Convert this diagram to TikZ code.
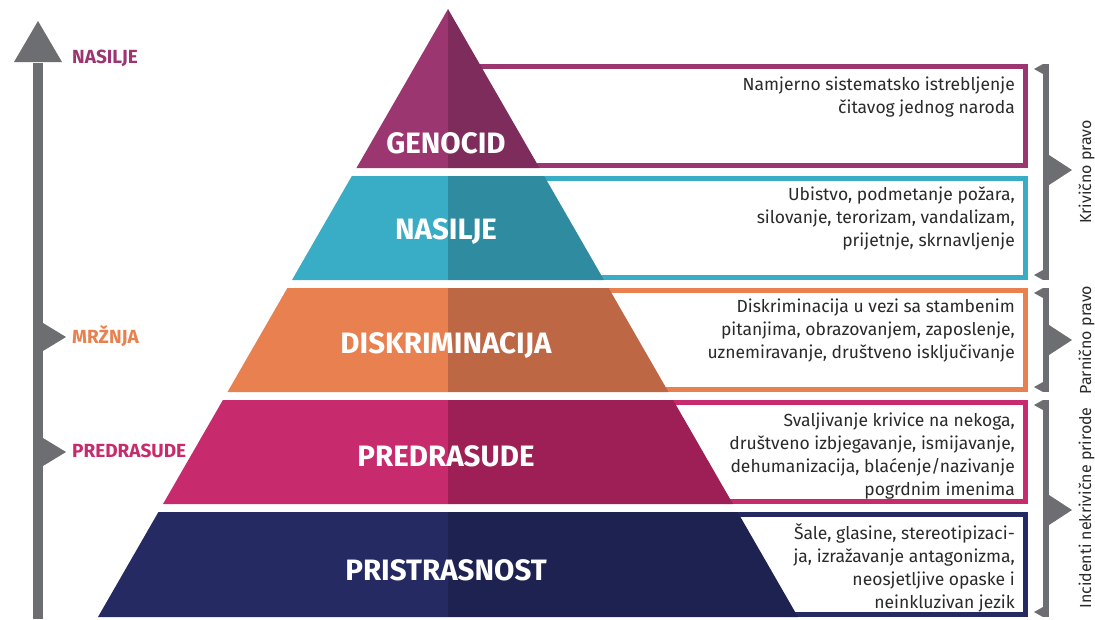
\documentclass[tikz,border=0pt]{standalone}
\usepackage{fontspec}
\setmainfont{Fira Sans}
\definecolor{genL}{HTML}{9C3670}
\definecolor{genR}{HTML}{7E2C5B}
\definecolor{nasL}{HTML}{3AADC6}
\definecolor{nasR}{HTML}{2E8BA0}
\definecolor{disL}{HTML}{E9804F}
\definecolor{disR}{HTML}{BD6745}
\definecolor{preL}{HTML}{C72B6D}
\definecolor{preR}{HTML}{9E1F55}
\definecolor{priL}{HTML}{262A62}
\definecolor{priR}{HTML}{1E2250}
\definecolor{barg}{HTML}{6D6E71}
\definecolor{textdark}{HTML}{2A2A2A}
\newcommand\pslope{0.5757}
\newcommand\pyrband[4]{%
  \fill[#3] ({448-\pslope*(#1-9)},#1) -- (448,#1) -- (448,#2) -- ({448-\pslope*(#2-9)},#2) -- cycle;
  \fill[#4] (448,#1) -- ({448+\pslope*(#1-9)},#1) -- ({448+\pslope*(#2-9)},#2) -- (448,#2) -- cycle;
}
\begin{document}
\begin{tikzpicture}[x=1pt,y=-1pt]
\tikzset{
  descbox/.style={line width=5pt},
  desc/.style={anchor=north east, align=right, inner sep=0pt, font=\fontsize{17.5}{23}\selectfont, text=textdark},
  tiertitle/.style={anchor=base, inner sep=0pt, font=\fontsize{29.5}{32}\selectfont\bfseries, text=white},
  sidelabel/.style={anchor=base west, inner sep=0pt, font=\fontsize{19}{22}\selectfont\bfseries},
  lawlabel/.style={rotate=90, anchor=base, inner sep=0pt, font=\fontsize{16}{19}\selectfont, text=textdark},
  grayshape/.style={fill=barg},
}
\useasboundingbox (0,0) rectangle (1095,619);
\fill[white] (0,0) rectangle (1095,619);

% description boxes
\draw[descbox, draw=genL] (448,66.5) rectangle (1025.5,165.5);
\draw[descbox, draw=nasL] (448,178.5) rectangle (1025.5,277.5);
\draw[descbox, draw=disL] (448,290.5) rectangle (1025.5,389.5);
\draw[descbox, draw=preL] (448,402.5) rectangle (1025.5,501.5);
\draw[descbox, draw=priL] (448,514.5) rectangle (1025.5,614.5);

% pyramid
\pyrband{9}{168}{genL}{genR}
\pyrband{176}{280}{nasL}{nasR}
\pyrband{288}{392}{disL}{disR}
\pyrband{400}{504}{preL}{preR}
\pyrband{512}{617}{priL}{priR}

% tier titles
\node[tiertitle] (tGen) at (446,153) {GENOCID};
\node[tiertitle] (tNas) at (446,239) {NASILJE};
\node[tiertitle] (tDis) at (446,353) {DISKRIMINACIJA};
\node[tiertitle] (tPre) at (446,466) {PREDRASUDE};
\node[tiertitle] (tPri) at (446,580) {PRISTRASNOST};

% descriptions
\node[desc] (dGen) at (1015,77) {Namjerno sistematsko istrebljenje\\čitavog jednog naroda};
\node[desc] (dNas) at (1015,187) {Ubistvo, podmetanje požara,\\silovanje, terorizam, vandalizam,\\prijetnje, skrnavljenje};
\node[desc] (dDis) at (1015,299) {Diskriminacija u vezi sa stambenim\\pitanjima, obrazovanjem, zaposlenje,\\uznemiravanje, društveno isključivanje};
\node[desc] (dPre) at (1015,413) {Svaljivanje krivice na nekoga,\\društveno izbjegavanje, ismijavanje,\\dehumanizacija, blaćenje/nazivanje\\pogrdnim imenima};
\node[desc] (dPri) at (1015,523) {Šale, glasine, stereotipizaci-\\ja, izražavanje antagonizma,\\neosjetljive opaske i\\neinkluzivan jezik};

% left escalation arrow
\fill[grayshape] (33,63) rectangle (43,619);
\fill[grayshape] (14,62) -- (62,62) -- (38,21) -- cycle;
\fill[grayshape] (43,323) -- (66,337) -- (43,351) -- cycle;
\fill[grayshape] (43,438) -- (66,452) -- (43,466) -- cycle;
\node[sidelabel, text=genL] (lNas) at (72,63) {NASILJE};
\node[sidelabel, text=disL] (lMrz) at (72,343) {MRŽNJA};
\node[sidelabel, text=preL] (lPre) at (72,457) {PREDRASUDE};

% right brackets
\fill[grayshape] (1043,64) rectangle (1049,280);
\fill[grayshape] (1043,64) -- (1043,74) -- (1034,69) -- cycle;
\fill[grayshape] (1043,270) -- (1043,280) -- (1034,275) -- cycle;
\fill[grayshape] (1049,155) -- (1072,170) -- (1049,185) -- cycle;
\node[lawlabel] (rKri) at (1091,172) {Krivično pravo};

\fill[grayshape] (1043,288) rectangle (1049,392);
\fill[grayshape] (1043,288) -- (1043,298) -- (1034,293) -- cycle;
\fill[grayshape] (1043,382) -- (1043,392) -- (1034,387) -- cycle;
\fill[grayshape] (1049,325) -- (1072,340) -- (1049,355) -- cycle;
\node[lawlabel] (rPar) at (1091,340) {Parnično pravo};

\fill[grayshape] (1043,400) rectangle (1049,617);
\fill[grayshape] (1043,400) -- (1043,410) -- (1034,405) -- cycle;
\fill[grayshape] (1043,607) -- (1043,617) -- (1034,612) -- cycle;
\fill[grayshape] (1049,495) -- (1072,510) -- (1049,525) -- cycle;
\node[lawlabel] (rInc) at (1091,508) {Incidenti nekrivične prirode};
\end{tikzpicture}
\end{document}
